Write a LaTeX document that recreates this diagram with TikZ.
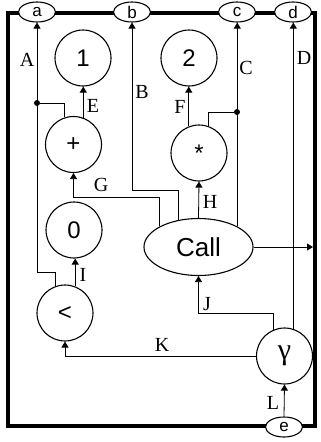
\documentclass[tikz,border=0pt]{standalone}
\usepackage{fontspec}
\setmainfont{Liberation Serif}
\newfontfamily\sansf{Liberation Sans}
\usetikzlibrary{shapes.geometric,arrows.meta}
\tikzset{
  op/.style={circle,draw,line width=1.1pt,minimum size=56pt,inner sep=0pt,font=\sansf\fontsize{24}{24}\selectfont},
  port/.style={ellipse,draw,line width=1.1pt,fill=white,minimum width=37pt,minimum height=20pt,inner sep=0pt,font=\sansf\fontsize{17}{17}\selectfont},
  callbox/.style={ellipse,draw,line width=1.1pt,minimum width=109pt,minimum height=57pt,inner sep=0pt,font=\sansf\fontsize{26}{26}\selectfont},
  wire/.style={line width=0.8pt},
  arr/.style={wire,-{Triangle[width=7pt,length=6pt]}},
  lbl/.style={font=\fontsize{20}{20}\selectfont,inner sep=0pt},
  jdot/.style={circle,fill,inner sep=0pt,minimum size=6pt},
  frame/.style={line width=4pt}
}
\begin{document}
\begin{tikzpicture}[x=1pt,y=-1pt]
\useasboundingbox (0,0) rectangle (321,442);
\draw[frame] (7.5,13) rectangle (315,426);
% ports
\node[port] (a) at (37,12) {a};
\node[port] (b) at (132,12) {b};
\node[port] (c) at (237,12) {c};
\node[port] (d) at (293,12) {d};
\node[port] (e) at (284,427) {e};
% operators
\node[op] (one) at (83,58) {1};
\node[op] (two) at (189,58) {2};
\node[op] (plus) at (73.5,144.5) {+};
\node[op] (star) at (199,153) {*};
\node[op] (zero) at (74,230) {0};
\node[op] (lt) at (65,313) {<};
\node[op,font=\fontsize{30}{30}\selectfont] (gam) at (284.5,356) {γ};
\node[callbox] (call) at (198.5,247) {Call};
% junctions
\node[jdot] (dA) at (37,103) {};
\node[jdot] (dC) at (237,112) {};
\coordinate (aj) at (37,272);
\coordinate (bj) at (132,190);
\coordinate (gj) at (73.5,197);
\coordinate (jj) at (198.5,313);
\coordinate (outp) at (313,247);
% connectors
\draw[arr] (lt.109) |- (aj) -- (a.south);
\draw[wire] (plus.108) |- (dA);
\draw[arr] (plus.70) -- (plus.70 |- one.south);
\draw[arr] (call.126) |- (bj) -- (b.south);
\draw[arr] (call.152) |- (gj) -- (plus.south);
\draw[arr] (call.north) -- (star.south);
\draw[arr] (call.28) -- (call.28 |- c.south);
\draw[wire] (star.71) |- (dC);
\draw[arr] (star.111) -- (star.111 |- two.south);
\draw[arr] (lt.69) -- (lt.69 |- zero.south);
\draw[arr] (gam.72) -- (gam.72 |- d.south);
\draw[arr] (gam.112) |- (jj) -- (call.south);
\draw[arr] (gam.west) -| (lt.south);
\draw[arr] (e.north) -- (gam.south);
\draw[arr] (call.east) -- (outp);
% labels
\node[lbl] (lA) at (27,60) {A};
\node[lbl] (lB) at (142,92) {B};
\node[lbl] (lC) at (246,68) {C};
\node[lbl] (lD) at (304,58) {D};
\node[lbl] (lE) at (93,106) {E};
\node[lbl] (lF) at (180,107) {F};
\node[lbl] (lG) at (101,185) {G};
\node[lbl] (lH) at (210,202) {H};
\node[lbl] (lI) at (83,275) {I};
\node[lbl] (lJ) at (207,304) {J};
\node[lbl] (lK) at (162,345) {K};
\node[lbl] (lL) at (273,403) {L};
\end{tikzpicture}
\end{document}
